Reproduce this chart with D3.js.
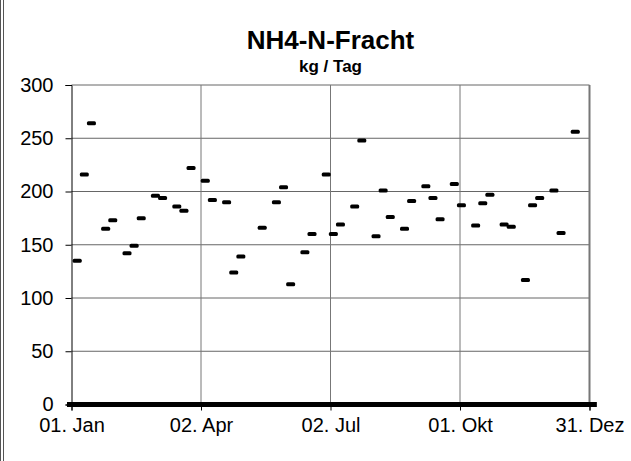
<!DOCTYPE html>
<html>
<head>
<meta charset="utf-8">
<script src="https://cdn.jsdelivr.net/npm/d3@7"></script>
<style>
  body { margin: 0; background: #fff; }
  svg { display: block; font-family: "Liberation Sans", Arial, sans-serif; }
</style>
</head>
<body>
<svg id="chart" width="631" height="461"></svg>
<script>
// Messtage und Frachten (kg/Tag)
var sampleDates = [
    "2003-01-05", "2003-01-10", "2003-01-15", "2003-01-25", "2003-01-30",
    "2003-02-09", "2003-02-14", "2003-02-19", "2003-03-01", "2003-03-06",
    "2003-03-16", "2003-03-21", "2003-03-26", "2003-04-05", "2003-04-10",
    "2003-04-20", "2003-04-25", "2003-04-30", "2003-05-15", "2003-05-25",
    "2003-05-30", "2003-06-04", "2003-06-14", "2003-06-19", "2003-06-29",
    "2003-07-04", "2003-07-09", "2003-07-19", "2003-07-24", "2003-08-03",
    "2003-08-08", "2003-08-13", "2003-08-23", "2003-08-28", "2003-09-07",
    "2003-09-12", "2003-09-17", "2003-09-27", "2003-10-02", "2003-10-12",
    "2003-10-17", "2003-10-22", "2003-11-01", "2003-11-06", "2003-11-16",
    "2003-11-21", "2003-11-26", "2003-12-06", "2003-12-11", "2003-12-21"
];
var loads = [
    135, 216, 264, 165, 173,
    142, 149, 175, 196, 194,
    186, 182, 222, 210, 192,
    190, 124, 139, 166, 190,
    204, 113, 143, 160, 216,
    160, 169, 186, 248, 158,
    201, 176, 165, 191, 205,
    194, 174, 207, 187, 168,
    189, 197, 169, 167, 117,
    187, 194, 201, 161, 256
];
// Tage ohne Messung stehen in der Reihe mit 0
var zeroFrom = "2003-01-01", zeroTo = "2004-01-03";

var tickDates = ["2003-01-01", "2003-04-02", "2003-07-02", "2003-10-01", "2003-12-31"];
var tickLabels = ["01. Jan", "02. Apr", "02. Jul", "01. Okt", "31. Dez"];
var yTicks = [0, 50, 100, 150, 200, 250, 300];

var parse = d3.timeParse("%Y-%m-%d");

var svg = d3.select("#chart");
var margin = { top: 85, bottom: 56.5, left: 71.5, right: 41.5 };
var width = 631, height = 461;

var x = d3.scaleTime()
    .domain([parse(tickDates[0]), parse(tickDates[tickDates.length - 1])])
    .range([margin.left, width - margin.right]);
var y = d3.scaleLinear()
    .domain([0, 300])
    .range([height - margin.bottom, margin.top]);

// linker Doppelrahmen
svg.append("line").attr("x1", 0.5).attr("x2", 0.5).attr("y1", 0).attr("y2", height)
    .attr("stroke", "#555");
svg.append("line").attr("x1", 3.5).attr("x2", 3.5).attr("y1", 0).attr("y2", height)
    .attr("stroke", "#555");

// Gitter
svg.append("g").attr("class", "hgrid")
    .selectAll("line")
    .data(yTicks.filter(function (d) { return d > 0; }))
    .enter()
    .append("line")
    .attr("x1", margin.left)
    .attr("x2", width - margin.right)
    .attr("y1", function (d) { return y(d); })
    .attr("y2", function (d) { return y(d); })
    .attr("stroke", "#666")
    .attr("stroke-width", 1);

svg.append("g").attr("class", "vgrid")
    .selectAll("line")
    .data(tickDates.slice(1))
    .enter()
    .append("line")
    .attr("x1", function (d) { return x(parse(d)); })
    .attr("x2", function (d) { return x(parse(d)); })
    .attr("y1", margin.top)
    .attr("y2", y(0))
    .attr("stroke", "#777")
    .attr("stroke-width", function (d, i) { return i === tickDates.length - 2 ? 2 : 1; });

// Achsen
var yAxis = d3.axisLeft(y).tickValues(yTicks).tickSize(6).tickPadding(12);
var yGroup = svg.append("g")
    .attr("transform", "translate(" + margin.left + ",0)")
    .call(yAxis);
yGroup.select(".domain").attr("stroke", "#000");
yGroup.selectAll("text").attr("font-size", "20px").attr("fill", "#000")
    .attr("font-family", "Liberation Sans, Arial, sans-serif");

var xAxis = d3.axisBottom(x)
    .tickValues(tickDates.map(parse))
    .tickFormat(function (d, i) { return tickLabels[i]; })
    .tickSize(6)
    .tickPadding(7);
var xGroup = svg.append("g")
    .attr("transform", "translate(0," + y(0) + ")")
    .call(xAxis);
xGroup.select(".domain").attr("stroke", "#000");
xGroup.selectAll("text").attr("font-size", "20px").attr("fill", "#000")
    .attr("font-family", "Liberation Sans, Arial, sans-serif");

// Nullwerte (Tage ohne Messung)
var measured = {};
sampleDates.forEach(function (d) { measured[d] = true; });
var fmt = d3.timeFormat("%Y-%m-%d");
var zeroDays = d3.timeDay.range(parse(zeroFrom), parse(zeroTo))
    .filter(function (d) { return !measured[fmt(d)]; });

var mw = 9, mh = 4;
svg.append("g").attr("class", "zeros")
    .selectAll("rect")
    .data(zeroDays)
    .enter()
    .append("rect")
    .attr("x", function (d) { return x(d) - mw / 2; })
    .attr("y", y(0) - mh / 2 - 0.5)
    .attr("width", mw)
    .attr("height", mh + 1)
    .attr("fill", "#000");

// Messwerte
var points = sampleDates.map(function (d, i) { return { date: parse(d), value: loads[i] }; });
svg.append("g").attr("class", "marks")
    .selectAll("rect")
    .data(points)
    .enter()
    .append("rect")
    .attr("x", function (d) { return x(d.date) - mw / 2; })
    .attr("y", function (d) { return y(d.value) - mh / 2; })
    .attr("width", mw)
    .attr("height", mh)
    .attr("rx", 1.5)
    .attr("fill", "#000");

// Titel
svg.append("text")
    .attr("x", (margin.left + width - margin.right) / 2)
    .attr("y", 49)
    .attr("text-anchor", "middle")
    .style("font-size", "26px")
    .style("font-weight", "bold")
    .text("NH4-N-Fracht");
svg.append("text")
    .attr("x", (margin.left + width - margin.right) / 2)
    .attr("y", 72)
    .attr("text-anchor", "middle")
    .style("font-size", "17px")
    .style("font-weight", "bold")
    .text("kg / Tag");
</script>
</body>
</html>
